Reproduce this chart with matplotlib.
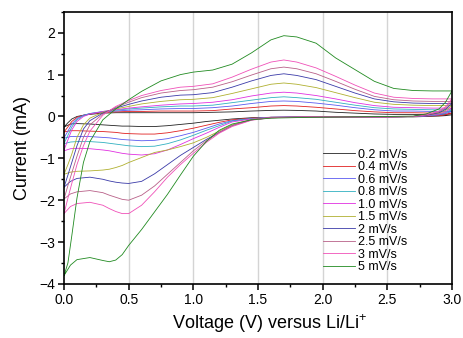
import matplotlib
matplotlib.use("Agg")
import matplotlib.pyplot as plt
from matplotlib.ticker import MultipleLocator

plt.rcParams["font.family"] = ["Liberation Sans", "DejaVu Sans"]
plt.rcParams["mathtext.fontset"] = "custom"
plt.rcParams["mathtext.rm"] = "Liberation Sans"

# scan rates and line colours
rates = ["0.2 mV/s", "0.4 mV/s", "0.6 mV/s", "0.8 mV/s", "1.0 mV/s",
         "1.5 mV/s", "2 mV/s", "2.5 mV/s", "3 mV/s", "5 mV/s"]
colors = ["#222222", "#e02020", "#5a5af0", "#30b0c0", "#e030e0",
          "#b0b030", "#3a3aa8", "#b86088", "#f050b8", "#208a20"]

# anodic sweep (0 -> 3 V), current in mA
v_anodic = [0, 0.03, 0.06, 0.1, 0.15, 0.2, 0.3, 0.4, 0.5, 0.6, 0.75, 0.9, 1.0, 1.15,
            1.3, 1.45, 1.6, 1.7, 1.8, 1.95, 2.1, 2.25, 2.4, 2.55, 2.7, 2.85, 3.0]
i_anodic = [
    [-0.25, -0.15, -0.06, 0.0, 0.03, 0.05, 0.08, 0.09, 0.09, 0.09, 0.09, 0.09, 0.09, 0.10,
     0.11, 0.13, 0.145, 0.15, 0.145, 0.13, 0.10, 0.08, 0.06, 0.05, 0.05, 0.04, 0.04],
    [-0.37, -0.25, -0.12, -0.02, 0.03, 0.06, 0.10, 0.11, 0.12, 0.12, 0.13, 0.13, 0.13, 0.14,
     0.18, 0.21, 0.25, 0.26, 0.25, 0.22, 0.18, 0.14, 0.11, 0.09, 0.09, 0.08, 0.08],
    [-0.51, -0.35, -0.18, -0.05, 0.03, 0.07, 0.11, 0.13, 0.15, 0.16, 0.18, 0.19, 0.19, 0.21,
     0.25, 0.31, 0.36, 0.37, 0.36, 0.32, 0.27, 0.21, 0.16, 0.13, 0.13, 0.12, 0.12],
    [-0.64, -0.45, -0.25, -0.08, 0.02, 0.07, 0.12, 0.15, 0.18, 0.20, 0.23, 0.25, 0.25, 0.27,
     0.33, 0.39, 0.45, 0.47, 0.45, 0.41, 0.34, 0.27, 0.21, 0.18, 0.17, 0.16, 0.16],
    [-0.80, -0.56, -0.32, -0.12, 0.0, 0.06, 0.12, 0.16, 0.20, 0.23, 0.27, 0.30, 0.31, 0.34,
     0.40, 0.49, 0.56, 0.58, 0.56, 0.50, 0.42, 0.33, 0.26, 0.22, 0.21, 0.20, 0.20],
    [-1.38, -1.15, -0.90, -0.50, -0.20, -0.04, 0.10, 0.18, 0.24, 0.30, 0.36, 0.40, 0.41, 0.45,
     0.55, 0.66, 0.77, 0.80, 0.77, 0.69, 0.57, 0.45, 0.34, 0.29, 0.27, 0.26, 0.26],
    [-1.69, -1.40, -1.10, -0.70, -0.30, -0.10, 0.08, 0.20, 0.29, 0.37, 0.46, 0.51, 0.52, 0.57,
     0.70, 0.85, 0.98, 1.02, 0.98, 0.88, 0.72, 0.56, 0.42, 0.35, 0.32, 0.31, 0.31],
    [-1.97, -1.65, -1.35, -0.95, -0.50, -0.20, 0.06, 0.22, 0.34, 0.45, 0.56, 0.62, 0.64, 0.70,
     0.83, 0.99, 1.14, 1.18, 1.14, 1.02, 0.84, 0.65, 0.48, 0.40, 0.37, 0.36, 0.36],
    [-2.32, -1.95, -1.60, -1.15, -0.70, -0.35, 0.03, 0.24, 0.38, 0.50, 0.62, 0.70, 0.72, 0.78,
     0.94, 1.13, 1.30, 1.35, 1.30, 1.16, 0.96, 0.75, 0.56, 0.46, 0.43, 0.42, 0.42],
    [-3.80, -3.50, -2.85, -1.95, -1.10, -0.60, -0.08, 0.18, 0.40, 0.60, 0.85, 1.00, 1.06, 1.11,
     1.25, 1.52, 1.83, 1.93, 1.90, 1.75, 1.40, 1.12, 0.84, 0.67, 0.62, 0.61, 0.61],
]

# cathodic sweep (3 -> 0 V)
v_cathodic = [3.0, 2.95, 2.9, 2.8, 2.7, 2.5, 2.2, 1.9, 1.6, 1.45, 1.3, 1.2, 1.1, 1.0,
              0.9, 0.8, 0.7, 0.6, 0.5, 0.45, 0.4, 0.35, 0.3, 0.2, 0.1, 0.05, 0.0]
i_cathodic = [
    [0.04, 0.02, 0.01, 0.0, -0.01, -0.01, -0.01, -0.01, -0.02, -0.03, -0.06, -0.09, -0.12,
     -0.16, -0.19, -0.22, -0.24, -0.24, -0.23, -0.23, -0.22, -0.21, -0.20, -0.18, -0.17, -0.18, -0.25],
    [0.08, 0.04, 0.02, 0.01, 0.0, -0.01, -0.01, -0.01, -0.02, -0.04, -0.08, -0.14, -0.21,
     -0.28, -0.34, -0.39, -0.42, -0.42, -0.41, -0.40, -0.38, -0.37, -0.36, -0.35, -0.34, -0.34, -0.37],
    [0.12, 0.07, 0.04, 0.01, 0.0, -0.01, -0.01, -0.01, -0.02, -0.05, -0.10, -0.18, -0.28,
     -0.38, -0.46, -0.53, -0.57, -0.58, -0.56, -0.55, -0.53, -0.51, -0.50, -0.48, -0.48, -0.48, -0.52],
    [0.16, 0.09, 0.05, 0.02, 0.0, -0.01, -0.01, -0.01, -0.02, -0.05, -0.11, -0.22, -0.33,
     -0.45, -0.56, -0.65, -0.71, -0.72, -0.70, -0.68, -0.66, -0.64, -0.62, -0.60, -0.60, -0.61, -0.65],
    [0.20, 0.11, 0.06, 0.02, 0.0, -0.01, -0.01, -0.01, -0.02, -0.06, -0.13, -0.26, -0.40,
     -0.53, -0.67, -0.80, -0.89, -0.92, -0.90, -0.88, -0.85, -0.82, -0.80, -0.77, -0.76, -0.77, -0.82],
    [0.26, 0.14, 0.08, 0.03, 0.0, -0.01, -0.01, -0.01, -0.03, -0.07, -0.20, -0.35, -0.50,
     -0.63, -0.72, -0.80, -0.86, -0.98, -1.10, -1.17, -1.22, -1.26, -1.28, -1.30, -1.31, -1.33, -1.38],
    [0.31, 0.17, 0.09, 0.03, 0.0, -0.01, -0.01, -0.01, -0.03, -0.08, -0.22, -0.38, -0.55,
     -0.74, -0.93, -1.15, -1.37, -1.55, -1.60, -1.59, -1.57, -1.54, -1.50, -1.45, -1.48, -1.55, -1.69],
    [0.36, 0.20, 0.11, 0.04, 0.0, -0.01, -0.01, -0.01, -0.03, -0.08, -0.22, -0.38, -0.58,
     -0.82, -1.10, -1.38, -1.66, -1.88, -2.00, -1.98, -1.93, -1.88, -1.82, -1.77, -1.80, -1.85, -1.97],
    [0.42, 0.23, 0.13, 0.04, 0.0, -0.01, -0.01, -0.01, -0.03, -0.09, -0.24, -0.40, -0.62,
     -0.88, -1.15, -1.45, -1.80, -2.12, -2.32, -2.32, -2.27, -2.20, -2.12, -2.05, -2.08, -2.15, -2.32],
    [0.61, 0.34, 0.18, 0.06, 0.01, 0.0, -0.01, -0.02, -0.04, -0.08, -0.18, -0.33, -0.60,
     -0.95, -1.40, -1.86, -2.28, -2.70, -3.08, -3.30, -3.43, -3.47, -3.44, -3.37, -3.42, -3.55, -3.80],
]

fig = plt.figure(figsize=(4.64, 3.38), dpi=100)
ax = fig.add_axes([0.138, 0.160, 0.836, 0.805])

for xv in [0.5, 1.0, 1.5, 2.0, 2.5]:
    ax.axvline(xv, color="#d4d4d4", linewidth=1.0, zorder=0)

for k, label in enumerate(rates):
    ax.plot(v_anodic + v_cathodic, i_anodic[k] + i_cathodic[k],
            color=colors[k], linewidth=0.6, label=label)

ax.set_xlim(0, 3.0)
ax.set_ylim(-4, 2.5)
ax.xaxis.set_major_locator(MultipleLocator(0.5))
ax.xaxis.set_minor_locator(MultipleLocator(0.25))
ax.yaxis.set_major_locator(MultipleLocator(1))
ax.yaxis.set_minor_locator(MultipleLocator(0.5))
ax.tick_params(which="major", direction="out", length=4.5, width=1.1, labelsize=10, pad=2,
               top=False, right=False)
ax.tick_params(which="minor", direction="out", length=2.5, width=1.0, top=False, right=False)
for sp in ax.spines.values():
    sp.set_linewidth(1.2)

ax.set_xlabel(r"Voltage (V) versus Li/Li$^{+}$", fontsize=13)
ax.xaxis.set_label_coords(0.53, -0.105)
ax.set_ylabel("Current (mA)", fontsize=13, labelpad=6)

leg = ax.legend(loc="upper left", bbox_to_anchor=(0.6675, 0.497), frameon=False,
                fontsize=9, handlelength=2.56, handletextpad=0.25, labelspacing=0.04,
                borderpad=0, borderaxespad=0)

fig.savefig("out.png", dpi=100)
